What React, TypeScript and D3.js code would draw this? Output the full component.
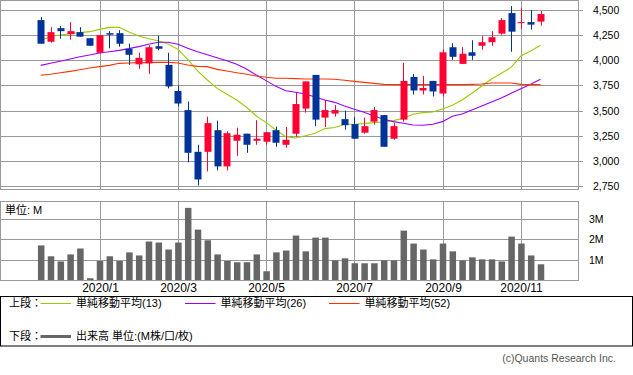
import React from "react";
import * as d3 from "d3";

// Weekly candles: 2019-11-25 .. 2020-11-16 (52 weeks)
const weeks: string[] = d3.timeMonday
  .range(new Date(2019, 10, 25), new Date(2020, 10, 17))
  .map((d) => d3.timeFormat("%Y-%m-%d")(d));

const open = [4400, 4185, 4320, 4260, 4280, 4220, 4075, 4270, 4270, 4115, 3960, 3970, 4140, 3955, 3695, 3505, 3090, 3090, 3305, 2945, 3200, 3270, 3200, 3190, 3305, 3160, 3270, 3520, 3855, 3430, 3470, 3415, 3365, 3280, 3390, 3455, 3220, 3410, 3835, 3700, 3795, 3670, 4130, 3965, 4080, 4145, 4180, 4265, 4470, 4375, 4380, 4385];
const high = [4430, 4330, 4340, 4380, 4330, 4220, 4250, 4290, 4300, 4165, 4075, 4150, 4245, 4075, 3750, 3590, 3160, 3440, 3400, 3295, 3330, 3270, 3405, 3285, 3340, 3335, 3675, 3790, 3855, 3605, 3555, 3500, 3435, 3430, 3535, 3455, 3380, 3975, 3865, 3845, 3795, 4110, 4170, 4130, 4200, 4240, 4290, 4420, 4540, 4520, 4500, 4490];
const low = [4165, 4175, 4215, 4205, 4235, 4145, 4070, 4120, 4135, 3955, 3915, 3865, 4100, 3720, 3540, 2985, 2755, 2895, 2905, 2905, 3050, 3080, 3160, 3160, 3140, 3130, 3240, 3480, 3345, 3335, 3440, 3310, 3220, 3270, 3360, 3140, 3210, 3390, 3660, 3660, 3640, 3640, 4005, 3965, 4005, 4105, 4145, 4255, 4085, 4315, 4305, 4345];
const close = [4165, 4280, 4290, 4290, 4235, 4145, 4250, 4255, 4165, 4055, 4025, 4130, 4115, 3740, 3570, 3080, 2815, 3375, 2945, 3275, 3260, 3160, 3220, 3285, 3180, 3210, 3565, 3790, 3410, 3505, 3505, 3355, 3220, 3345, 3505, 3140, 3345, 3795, 3700, 3725, 3690, 4080, 4035, 4065, 4045, 4180, 4230, 4400, 4285, 4380, 4355, 4460];

// Volume in millions of shares
const volume = [1.71, 1.18, 0.93, 1.27, 1.56, 0.11, 0.95, 1.18, 0.95, 1.37, 1.22, 1.9, 1.85, 1.51, 1.85, 3.54, 2.48, 1.96, 1.27, 0.95, 0.89, 0.89, 1.27, 0.45, 1.37, 1.46, 2.19, 1.42, 2.09, 2.09, 0.98, 1.08, 0.84, 0.84, 0.84, 0.98, 0.98, 2.43, 1.8, 1.51, 1.03, 1.8, 1.42, 0.98, 1.13, 1.03, 1.03, 0.93, 2.14, 1.8, 1.22, 0.79];

// Simple moving averages (13, 26, 52 weeks)
const ma13 = [4199, 4235, 4252, 4265, 4275, 4285, 4308, 4328, 4328, 4281, 4242, 4215, 4195, 4162, 4109, 4010, 3894, 3804, 3721, 3662, 3605, 3533, 3446, 3380, 3307, 3241, 3228, 3250, 3274, 3321, 3331, 3364, 3364, 3370, 3380, 3387, 3400, 3423, 3463, 3480, 3486, 3516, 3552, 3605, 3672, 3745, 3814, 3871, 3930, 4043, 4093, 4149];
const ma26 = [3950, 3970, 3990, 4013, 4036, 4053, 4073, 4086, 4099, 4116, 4136, 4159, 4179, 4179, 4159, 4120, 4085, 4056, 4026, 3996, 3960, 3914, 3854, 3798, 3741, 3698, 3682, 3665, 3635, 3605, 3582, 3546, 3513, 3483, 3446, 3413, 3390, 3374, 3357, 3354, 3364, 3390, 3443, 3466, 3506, 3546, 3586, 3625, 3672, 3718, 3761, 3811];
const ma52 = [3851, 3861, 3877, 3890, 3907, 3924, 3937, 3950, 3970, 3973, 3977, 3977, 3980, 3980, 3973, 3953, 3940, 3937, 3910, 3894, 3877, 3861, 3844, 3831, 3821, 3821, 3818, 3814, 3814, 3814, 3811, 3801, 3791, 3781, 3771, 3761, 3758, 3758, 3758, 3758, 3758, 3758, 3758, 3758, 3761, 3765, 3774, 3774, 3774, 3761, 3758, 3758];

const priceTicks = [2750, 3000, 3250, 3500, 3750, 4000, 4250, 4500];
const volumeTicks = [1, 2, 3];
const volumeTickLabels = ["1M", "2M", "3M"];
const tickWeeks = ["2020-01-06", "2020-03-02", "2020-05-04", "2020-07-06", "2020-09-07", "2020-11-02"];
const tickLabels = ["2020/1", "2020/3", "2020/5", "2020/7", "2020/9", "2020/11"];

const maSeries = [
  { name: "単純移動平均(13)", values: ma13, color: "#99cc00" },
  { name: "単純移動平均(26)", values: ma26, color: "#9900ff" },
  { name: "単純移動平均(52)", values: ma52, color: "#ff3300" },
];

const FONT = "'Liberation Sans', 'Noto Sans CJK JP', sans-serif";
const GRID = "#999999";
const UP = "#ff0033";
const DOWN = "#003399";

export default function App() {
  const W = 633;
  const H = 375;
  const left = 0.5;
  const right = 578.5;
  const pTop = 0.5;
  const pBottom = 189.5;
  const vTop = 201.5;
  const vBottom = 280.5;

  const x = d3.scalePoint<string>().domain(weeks).range([40.7, 540.5]);
  const y = d3.scaleLinear().domain([2715, 4600]).range([pBottom, 0]);
  const yv = d3.scaleLinear().domain([0, 3.85]).range([vBottom, vTop]);
  const fmt = d3.format(",");

  const cx = (i: number) => x(weeks[i]) as number;
  const line = (vals: number[]) =>
    d3
      .line<number>()
      .x((_, i) => cx(i))
      .y((d) => y(d))(vals) as string;

  const gx = tickWeeks.map((w) => Math.round(x(w) as number) + 0.5);

  const bodyW = 7;
  const volW = 6.5;

  return (
    <svg
      width={W}
      height={H}
      style={{ position: "absolute", left: 0, top: 0, background: "#fff" }}
      fontFamily={FONT}
    >
      {/* Price panel grid */}
      {priceTicks.map((t) => {
        const yy = Math.round(y(t)) + 0.5;
        return (
          <g key={"pt" + t}>
            <line x1={left} x2={right + 4.5} y1={yy} y2={yy} stroke={GRID} strokeWidth={1} />
            <text x={593} y={yy + 3.8} fontSize={10.5} fill="#000">
              {fmt(t)}
            </text>
          </g>
        );
      })}
      {gx.map((g, i) => (
        <line key={"pg" + i} x1={g} x2={g} y1={pTop} y2={pBottom} stroke={GRID} />
      ))}
      <rect x={left} y={pTop} width={right - left} height={pBottom - pTop} fill="none" stroke={GRID} />

      {/* Moving averages */}
      {maSeries.map((s) => (
        <path key={s.name} d={line(s.values)} fill="none" stroke={s.color} strokeWidth={1.1} />
      ))}

      {/* Candles */}
      {weeks.map((w, i) => {
        const c = cx(i);
        const up = close[i] >= open[i];
        const col = up ? UP : DOWN;
        const top = y(Math.max(open[i], close[i]));
        const bot = y(Math.min(open[i], close[i]));
        const wx = Math.round(c) + 0.5;
        return (
          <g key={"c" + w}>
            <line x1={wx} x2={wx} y1={y(high[i])} y2={y(low[i])} stroke={col} strokeWidth={1} />
            <rect
              x={Math.round(c - bodyW / 2) + 0.5}
              y={top}
              width={bodyW}
              height={Math.max(1, bot - top)}
              fill={col}
            />
          </g>
        );
      })}

      {/* Volume panel */}
      {volumeTicks.map((t, i) => {
        const yy = Math.round(yv(t)) + 0.5;
        return (
          <g key={"vt" + t}>
            <line x1={left} x2={right} y1={yy} y2={yy} stroke={GRID} />
            <text x={589} y={yy + 3.8} fontSize={10.5} fill="#000">
              {volumeTickLabels[i]}
            </text>
          </g>
        );
      })}
      {gx.map((g, i) => (
        <line key={"vg" + i} x1={g} x2={g} y1={vTop} y2={vBottom} stroke={GRID} />
      ))}
      {volume.map((v, i) => (
        <rect
          key={"v" + i}
          x={cx(i) - volW / 2 + 0.5}
          y={yv(v)}
          width={volW}
          height={vBottom - yv(v)}
          fill="#666666"
        />
      ))}
      <rect x={left} y={vTop} width={right - left} height={vBottom - vTop} fill="none" stroke={GRID} />
      <text x={5} y={213.5} fontSize={11} fill="#000">
        単位: M
      </text>

      {/* Date labels */}
      {gx.map((g, i) => (
        <text key={"dl" + i} x={g} y={291.7} fontSize={12} textAnchor="middle" fill="#000">
          {tickLabels[i]}
        </text>
      ))}

      {/* Legend */}
      <rect x={0.5} y={296.5} width={632} height={49.5} fill="none" stroke="#000" />
      <text x={9} y={307} fontSize={11} fill="#000">
        上段：
      </text>
      {maSeries.map((s, i) => {
        const lx = [40.5, 185, 329][i];
        return (
          <g key={"lg" + i}>
            <line x1={lx} x2={lx + 30.5} y1={303.5} y2={303.5} stroke={s.color} strokeWidth={1} />
            <text x={lx + 35.5} y={307} fontSize={11} fill="#000">
              {s.name}
            </text>
          </g>
        );
      })}
      <text x={9} y={340} fontSize={11} fill="#000">
        下段：
      </text>
      <line x1={40.5} x2={71} y1={336.5} y2={336.5} stroke="#666666" strokeWidth={3} />
      <text x={76} y={340} fontSize={11} fill="#000">
        出来高 単位:(M株/口/枚)
      </text>

      <text x={616} y={361.5} fontSize={10.5} textAnchor="end" fill="#555">
        (c)Quants Research Inc.
      </text>
    </svg>
  );
}
